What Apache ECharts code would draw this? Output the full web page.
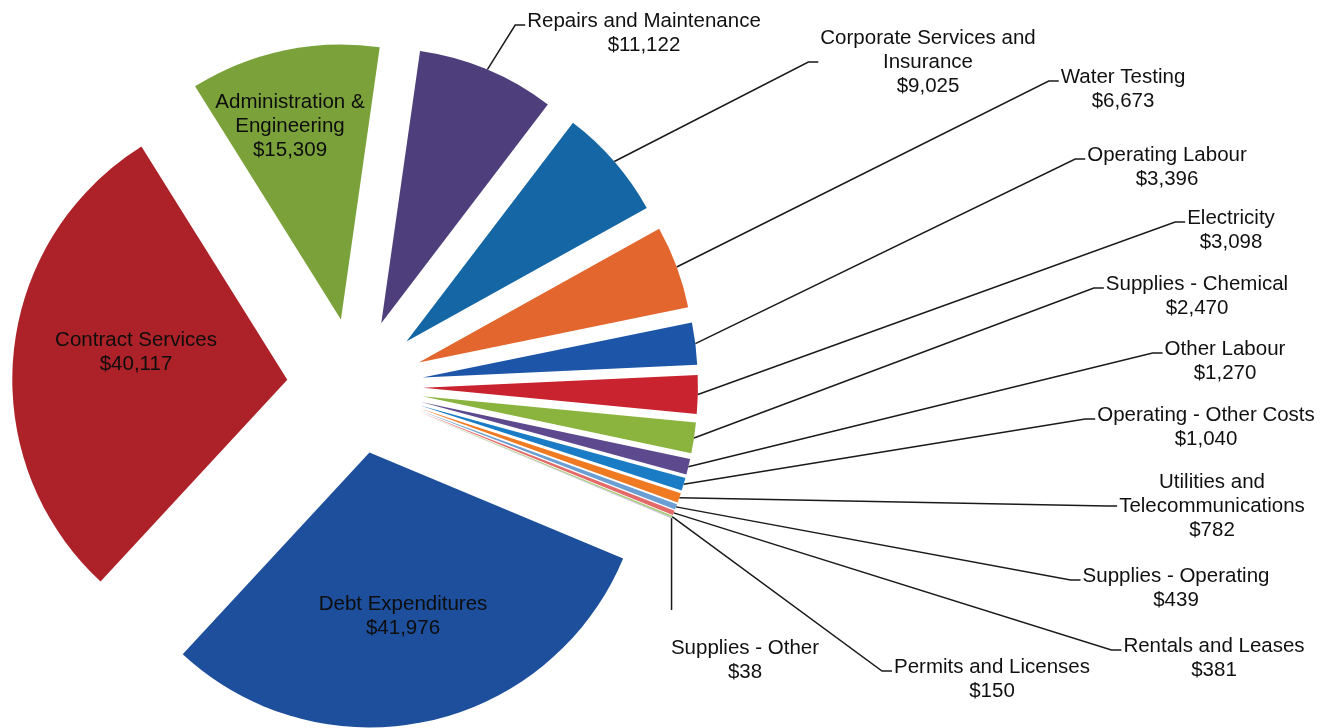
<!DOCTYPE html>
<html>
<head>
<meta charset="utf-8">
<title>Expenditures</title>
<script src="https://cdn.jsdelivr.net/npm/echarts@6/dist/echarts.min.js"></script>
<style>
  html, body { margin: 0; padding: 0; background: #fff; }
  #chart { width: 1335px; height: 728px; }
</style>
</head>
<body>
<div id="chart"></div>
<script>
// slices, clockwise from the first one
const categories = [
  'Debt Expenditures', 'Contract Services', 'Administration &\nEngineering',
  'Repairs and Maintenance', 'Corporate Services and\nInsurance', 'Water Testing',
  'Operating Labour', 'Electricity', 'Supplies - Chemical', 'Other Labour',
  'Operating - Other Costs', 'Utilities and\nTelecommunications', 'Supplies - Operating',
  'Rentals and Leases', 'Permits and Licenses', 'Supplies - Other'
];
const amounts = [41976, 40117, 15309, 11122, 9025, 6673, 3396, 3098, 2470, 1270, 1040, 782, 439, 381, 150, 38];

const colors = [
  '#1d4f9c', '#ad2128', '#7ba23a', '#4e3f7c', '#1467a4', '#e2662d',
  '#1d55a8', '#c8232e', '#8ab43e', '#5d4a8e', '#1a7cc4', '#f07a22',
  '#6b9ed3', '#e46a6a', '#a9cc7a', '#a696c7'
];

// labels drawn on the slice itself
const insideLabels = [0, 1, 2];
// label placement (centre x, centre of first line)
const labelX = [403, 136, 290, 644, 928, 1123, 1167, 1231, 1197, 1225, 1206, 1212, 1176, 1214, 992, 745];
const labelY = [604, 340, 102, 21, 38, 77, 155, 218, 284, 349, 415, 482, 576, 646, 667, 648];
// leader drops straight down onto the label for these, meets the left side for the rest
const topLeader = [15];

const R = 275;        // slice radius
const EXPLODE = 68;   // how far every slice is pulled out
const CENTER = [355, 386];
const LINE_H = 24;

const chart = echarts.init(document.getElementById('chart'), null, { renderer: 'canvas' });

const fmt = v => '$' + v.toLocaleString('en-US');

function placeLabel(p) {
  const i = p.dataIndex;
  const w = p.labelRect.width;
  const h = p.labelRect.height;
  const left = labelX[i] - w / 2;
  const top = labelY[i] - LINE_H / 2;
  const out = { x: labelX[i], y: top, align: 'center', verticalAlign: 'top' };
  const pts = p.labelLinePoints;
  if (pts && insideLabels.indexOf(i) < 0) {
    const start = pts[0];
    let bend, end;
    if (topLeader.indexOf(i) >= 0) {
      end = [start[0], top - 26];
      bend = end;
    } else {
      // middle of the first text line (or of the block for 3 lines)
      const ay = h > LINE_H * 2.5 ? top + h / 2 : labelY[i] + 4;
      end = [left - 2, ay];
      bend = [left - 12, ay];
    }
    out.labelLinePoints = [start, bend, end];
  }
  return out;
}

const option = {
  backgroundColor: '#ffffff',
  animation: false,
  series: [
    {
      // the exploded slices
      type: 'pie',
      center: CENTER,
      radius: R,
      startAngle: -22.7,
      clockwise: true,
      selectedMode: 'multiple',
      selectedOffset: EXPLODE,
      silent: true,
      emphasis: { disabled: true },
      label: { show: false },
      labelLine: { show: false },
      data: categories.map((name, i) => ({
        name: name,
        value: amounts[i],
        selected: true,
        itemStyle: { color: colors[i] }
      }))
    },
    {
      // invisible copy reaching to the outer tips, carries the labels
      type: 'pie',
      center: CENTER,
      radius: R + EXPLODE,
      startAngle: -22.7,
      clockwise: true,
      silent: true,
      selectedMode: false,
      avoidLabelOverlap: false,
      emphasis: { disabled: true },
      itemStyle: { color: 'rgba(0,0,0,0)' },
      label: {
        formatter: p => p.name + '\n' + fmt(p.value),
        fontFamily: '"Liberation Sans", Arial, sans-serif',
        fontSize: 20.5,
        lineHeight: LINE_H,
        color: '#111',
        align: 'center'
      },
      labelLine: {
        show: true,
        length: 10,
        length2: 10,
        minTurnAngle: 0,
        lineStyle: { color: '#1a1a1a', width: 1.5 }
      },
      labelLayout: placeLabel,
      data: categories.map((name, i) => {
        const inside = insideLabels.indexOf(i) >= 0;
        return {
          name: name,
          value: amounts[i],
          label: inside ? { color: '#0d0d0d' } : {},
          labelLine: { show: !inside }
        };
      })
    }
  ]
};

chart.setOption(option);
</script>
</body>
</html>
